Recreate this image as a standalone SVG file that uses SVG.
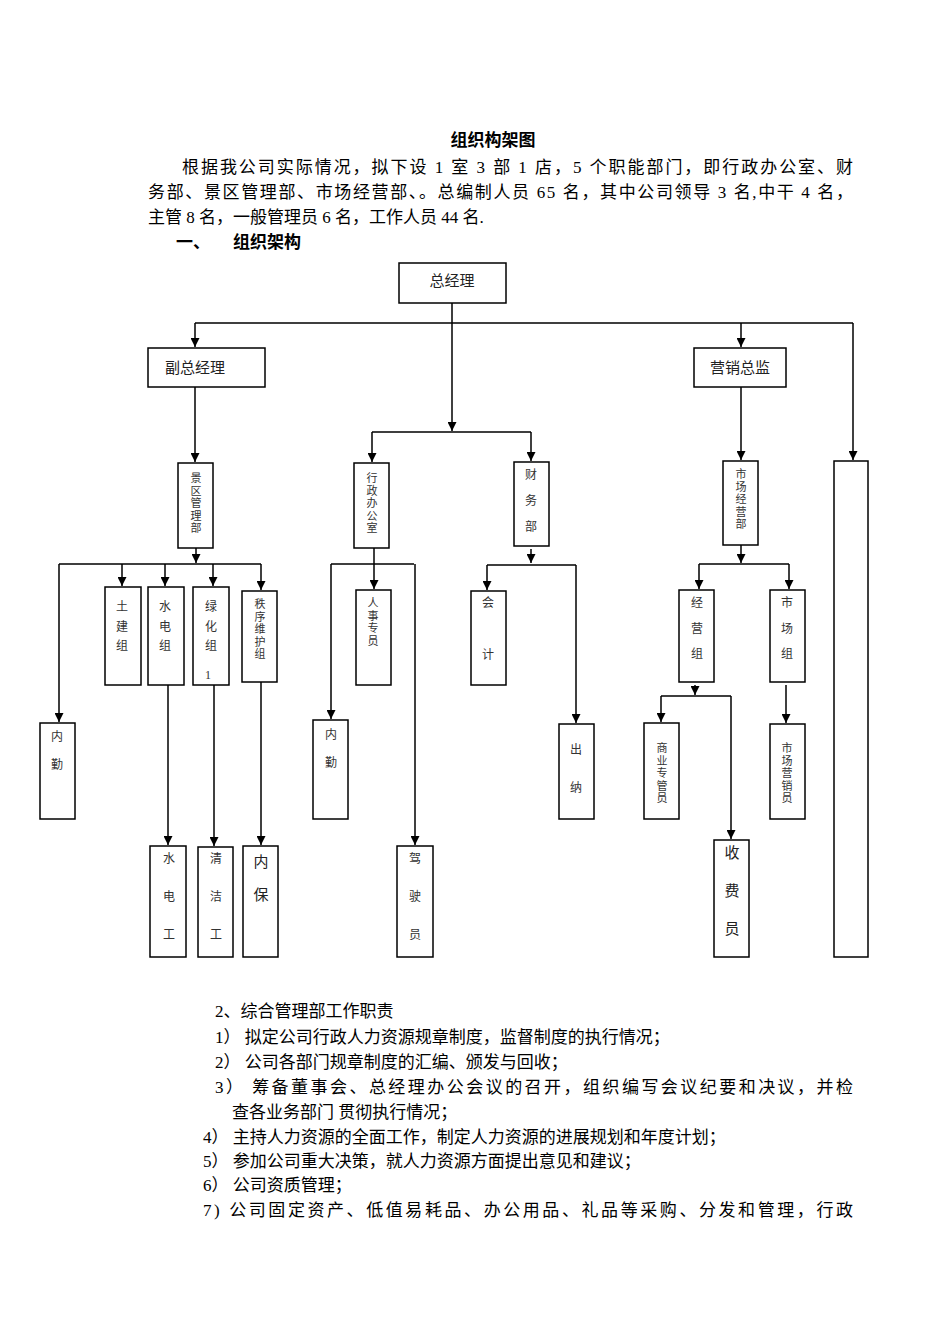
<svg xmlns="http://www.w3.org/2000/svg" width="950" height="1344" viewBox="0 0 950 1344">
<style>
.b{fill:#fff;stroke:#000;stroke-width:1.5}
.t{font-family:"Liberation Serif","Noto Sans CJK SC",serif;font-size:17px;fill:#000}
.v{font-family:"Liberation Serif","Noto Sans CJK SC",serif;font-size:12px;fill:#333;text-anchor:middle}
.s{font-size:11px}
.h{font-family:"Liberation Serif","Noto Sans CJK SC",serif;font-size:15px;fill:#222;text-anchor:middle}
.c{fill:none;stroke:#000;stroke-width:1.5}
</style>
<defs><marker id="a" viewBox="0 0 10 10" refX="10" refY="5" markerWidth="6" markerHeight="6" orient="auto"><path d="M0,0L10,5L0,10z" fill="#000"/></marker></defs>
<rect width="950" height="1344" fill="#fff"/>
<text class="t" x="493" y="146" text-anchor="middle" font-weight="bold">组织构架图</text>
<text class="t" x="182" y="173" textLength="671">根据我公司实际情况，拟下设 1 室 3 部 1 店，5 个职能部门，即行政办公室、财</text>
<text class="t" x="148" y="198" textLength="705">务部、景区管理部、市场经营部、。总编制人员 65 名，其中公司领导 3 名,中干 4 名，</text>
<text class="t" x="148" y="223">主管 8 名，一般管理员 6 名，工作人员 44 名.</text>
<text class="t" x="176" y="248" font-weight="bold">一、</text>
<text class="t" x="233" y="248" font-weight="bold">组织架构</text>
<g id="connectors">
<path class="c" d="M452,303V323M195,323H853M195,323V347" marker-end="url(#a)"/>
<path class="c" d="M741,323V347" marker-end="url(#a)"/>
<path class="c" d="M853,323V460" marker-end="url(#a)"/>
<path class="c" d="M452,323V431" marker-end="url(#a)"/>
<path class="c" d="M372,432H531M372,432V462" marker-end="url(#a)"/>
<path class="c" d="M531,432V461" marker-end="url(#a)"/>
<path class="c" d="M195,387V462" marker-end="url(#a)"/>
<path class="c" d="M741,387V460" marker-end="url(#a)"/>
<path class="c" d="M196,548V563" marker-end="url(#a)"/>
<path class="c" d="M59,564H261M59,564V722" marker-end="url(#a)"/>
<path class="c" d="M122,564V586" marker-end="url(#a)"/>
<path class="c" d="M165,564V586" marker-end="url(#a)"/>
<path class="c" d="M213,564V586" marker-end="url(#a)"/>
<path class="c" d="M261,564V590" marker-end="url(#a)"/>
<path class="c" d="M168,685V845" marker-end="url(#a)"/>
<path class="c" d="M214,679V846" marker-end="url(#a)"/>
<path class="c" d="M261,682V845" marker-end="url(#a)"/>
<path class="c" d="M374,548V589" marker-end="url(#a)"/>
<path class="c" d="M331,564H414M331,564V719" marker-end="url(#a)"/>
<path class="c" d="M415,564V845" marker-end="url(#a)"/>
<path class="c" d="M531,549V563" marker-end="url(#a)"/>
<path class="c" d="M487,565H576M487,565V590" marker-end="url(#a)"/>
<path class="c" d="M576,565V723" marker-end="url(#a)"/>
<path class="c" d="M741,545V563" marker-end="url(#a)"/>
<path class="c" d="M699,564H789M699,564V589" marker-end="url(#a)"/>
<path class="c" d="M789,564V589" marker-end="url(#a)"/>
<path class="c" d="M695,685V695" marker-end="url(#a)"/>
<path class="c" d="M661,696H731M661,696V722" marker-end="url(#a)"/>
<path class="c" d="M731,696V839" marker-end="url(#a)"/>
<path class="c" d="M786,685V723" marker-end="url(#a)"/>
</g>
<g id="n-zjl"><rect class="b" x="399" y="263" width="107" height="40"/><text class="h" x="452" y="286">总经理</text></g>
<g id="n-fzjl"><rect class="b" x="148" y="348" width="117" height="39"/><text class="h" x="195" y="373" font-size="16">副总经理</text></g>
<g id="n-yxzj"><rect class="b" x="694" y="348" width="92" height="39"/><text class="h" x="740" y="373" font-size="16">营销总监</text></g>
<g id="n-big"><rect class="b" x="834" y="461" width="34" height="496"/></g>
<g id="n-jq"><rect class="b" x="178" y="463" width="35" height="85"/><text class="v s" x="196" y="482"><tspan x="196">景</tspan><tspan x="196" dy="12.5">区</tspan><tspan x="196" dy="12.5">管</tspan><tspan x="196" dy="12.5">理</tspan><tspan x="196" dy="12.5">部</tspan></text></g>
<g id="n-xz"><rect class="b" x="354" y="463" width="35" height="85"/><text class="v s" x="372" y="482"><tspan x="372">行</tspan><tspan x="372" dy="12.5">政</tspan><tspan x="372" dy="12.5">办</tspan><tspan x="372" dy="12.5">公</tspan><tspan x="372" dy="12.5">室</tspan></text></g>
<g id="n-cw"><rect class="b" x="514" y="462" width="35" height="84"/><text class="v" x="531" y="479"><tspan x="531">财</tspan><tspan x="531" dy="26">务</tspan><tspan x="531" dy="26">部</tspan></text></g>
<g id="n-scjy"><rect class="b" x="723" y="461" width="35" height="84"/><text class="v s" x="741" y="478"><tspan x="741">市</tspan><tspan x="741" dy="12.5">场</tspan><tspan x="741" dy="12.5">经</tspan><tspan x="741" dy="12.5">营</tspan><tspan x="741" dy="12.5">部</tspan></text></g>
<g id="n-tj"><rect class="b" x="105" y="587" width="36" height="98"/><text class="v" x="122" y="611"><tspan x="122">土</tspan><tspan x="122" dy="20">建</tspan><tspan x="122" dy="19">组</tspan></text></g>
<g id="n-sd"><rect class="b" x="148" y="587" width="36" height="98"/><text class="v" x="165" y="611"><tspan x="165">水</tspan><tspan x="165" dy="20">电</tspan><tspan x="165" dy="19">组</tspan></text></g>
<g id="n-lh"><rect class="b" x="193" y="587" width="36" height="98"/><text class="v" x="211" y="611"><tspan x="211">绿</tspan><tspan x="211" dy="20">化</tspan><tspan x="211" dy="19">组</tspan></text><text class="v" x="208" y="679" font-size="10">1</text></g>
<g id="n-zx"><rect class="b" x="242" y="591" width="35" height="91"/><text class="v s" x="260" y="608"><tspan x="260">秩</tspan><tspan x="260" dy="12.5">序</tspan><tspan x="260" dy="12.5">维</tspan><tspan x="260" dy="12.5">护</tspan><tspan x="260" dy="12.5">组</tspan></text></g>
<g id="n-nq1"><rect class="b" x="40" y="723" width="35" height="96"/><text class="v" x="57" y="741"><tspan x="57">内</tspan><tspan x="57" dy="28">勤</tspan></text></g>
<g id="n-sdg"><rect class="b" x="150" y="846" width="36" height="111"/><text class="v" x="169" y="863"><tspan x="169">水</tspan><tspan x="169" dy="38">电</tspan><tspan x="169" dy="38">工</tspan></text></g>
<g id="n-qjg"><rect class="b" x="198" y="847" width="35" height="110"/><text class="v" x="216" y="863"><tspan x="216">清</tspan><tspan x="216" dy="38">洁</tspan><tspan x="216" dy="38">工</tspan></text></g>
<g id="n-nb"><rect class="b" x="243" y="846" width="35" height="111"/><text class="h" x="261" y="867" font-size="14"><tspan x="261">内</tspan><tspan x="261" dy="33">保</tspan></text></g>
<g id="n-rs"><rect class="b" x="356" y="590" width="35" height="95"/><text class="v s" x="373" y="607"><tspan x="373">人</tspan><tspan x="373" dy="12.5">事</tspan><tspan x="373" dy="12.5">专</tspan><tspan x="373" dy="12.5">员</tspan></text></g>
<g id="n-nq2"><rect class="b" x="313" y="720" width="35" height="99"/><text class="v" x="331" y="739"><tspan x="331">内</tspan><tspan x="331" dy="28">勤</tspan></text></g>
<g id="n-jsy"><rect class="b" x="397" y="846" width="36" height="111"/><text class="v" x="415" y="863"><tspan x="415">驾</tspan><tspan x="415" dy="38">驶</tspan><tspan x="415" dy="38">员</tspan></text></g>
<g id="n-kj"><rect class="b" x="471" y="591" width="35" height="94"/><text class="v" x="488" y="607"><tspan x="488">会</tspan><tspan x="488" dy="52">计</tspan></text></g>
<g id="n-cn"><rect class="b" x="559" y="724" width="35" height="95"/><text class="v" x="576" y="754"><tspan x="576">出</tspan><tspan x="576" dy="38">纳</tspan></text></g>
<g id="n-jyz"><rect class="b" x="679" y="590" width="35" height="92"/><text class="v" x="697" y="607"><tspan x="697">经</tspan><tspan x="697" dy="25.5">营</tspan><tspan x="697" dy="25.5">组</tspan></text></g>
<g id="n-scz"><rect class="b" x="770" y="590" width="35" height="92"/><text class="v" x="787" y="607"><tspan x="787">市</tspan><tspan x="787" dy="25.5">场</tspan><tspan x="787" dy="25.5">组</tspan></text></g>
<g id="n-sy"><rect class="b" x="644" y="723" width="35" height="96"/><text class="v s" x="662" y="752"><tspan x="662">商</tspan><tspan x="662" dy="12.5">业</tspan><tspan x="662" dy="12.5">专</tspan><tspan x="662" dy="12.5">管</tspan><tspan x="662" dy="12.5">员</tspan></text></g>
<g id="n-sf"><rect class="b" x="714" y="840" width="35" height="117"/><text class="h" x="732" y="858" font-size="13"><tspan x="732">收</tspan><tspan x="732" dy="38">费</tspan><tspan x="732" dy="38">员</tspan></text></g>
<g id="n-yx"><rect class="b" x="770" y="724" width="35" height="95"/><text class="v s" x="787" y="752"><tspan x="787">市</tspan><tspan x="787" dy="12.5">场</tspan><tspan x="787" dy="12.5">营</tspan><tspan x="787" dy="12.5">销</tspan><tspan x="787" dy="12.5">员</tspan></text></g>
<text class="t" x="215" y="1017">2、综合管理部工作职责</text>
<text class="t" x="215" y="1043">1） 拟定公司行政人力资源规章制度，监督制度的执行情况；</text>
<text class="t" x="215" y="1068">2） 公司各部门规章制度的汇编、颁发与回收；</text>
<text class="t" x="215" y="1093" textLength="638">3） 筹备董事会、总经理办公会议的召开，组织编写会议纪要和决议，并检</text>
<text class="t" x="232" y="1118">查各业务部门 贯彻执行情况；</text>
<text class="t" x="203" y="1143">4） 主持人力资源的全面工作，制定人力资源的进展规划和年度计划；</text>
<text class="t" x="203" y="1167">5） 参加公司重大决策，就人力资源方面提出意见和建议；</text>
<text class="t" x="203" y="1191">6） 公司资质管理；</text>
<text class="t" x="203" y="1216" textLength="650">7) 公司固定资产、低值易耗品、办公用品、礼品等采购、分发和管理，行政</text>
</svg>
